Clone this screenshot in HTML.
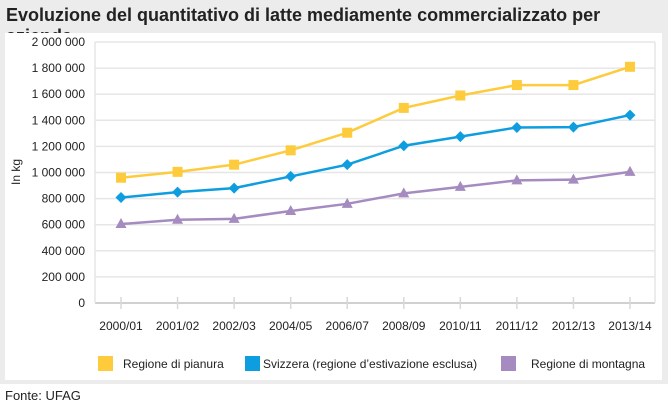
<!DOCTYPE html>
<html><head><meta charset="utf-8"><style>
body{margin:0;width:668px;height:407px;background:#fff;font-family:"Liberation Sans Narrow","Liberation Sans",sans-serif;overflow:hidden}
#bg{position:absolute;left:0;top:0;width:668px;height:384px;background:#ececec}
#title{position:absolute;left:6px;top:5px;font-size:18px;font-weight:bold;color:#222}
#panel{position:absolute;left:5px;top:33px;width:657px;height:347px;background:#fff}
#src{position:absolute;left:5px;top:388px;font-size:13px;color:#222}
svg{position:absolute;left:0;top:0}
text{font-family:"Liberation Sans Narrow","Liberation Sans",sans-serif;font-size:12px;fill:#222}
</style></head><body>
<div id="bg"></div>
<div id="title">Evoluzione del quantitativo di latte mediamente commercializzato per azienda</div>
<div id="panel"></div>
<div id="src">Fonte: UFAG</div>
<svg id="chart" width="668" height="407"></svg>
<script>
const categories=["2000/01","2001/02","2002/03","2004/05","2006/07","2008/09","2010/11","2011/12","2012/13","2013/14"];
const pianura=[960000,1005000,1060000,1170000,1305000,1495000,1590000,1670000,1670000,1810000];
const svizzera=[808000,850000,880000,970000,1060000,1205000,1275000,1345000,1348000,1440000];
const montagna=[605000,638000,645000,705000,760000,840000,890000,940000,945000,1005000];
const yTicks=[0,200000,400000,600000,800000,1000000,1200000,1400000,1600000,1800000,2000000];
const svg=document.getElementById('chart');const NS='http://www.w3.org/2000/svg';
const L=95,R=655,T=42,B=303,ymax=2000000;
const x=i=>121+i*(630-121)/(categories.length-1);
const y=v=>B-(v/ymax)*(B-T);
function mk(t,a){const e=document.createElementNS(NS,t);for(const k in a)e.setAttribute(k,a[k]);svg.appendChild(e);return e;}
const fmt=v=>v===0?"0":v.toString().replace(/\B(?=(\d{3})+(?!\d))/g," ");
yTicks.forEach(v=>{
 const g=mk('line',{x1:L,x2:R,y1:y(v),y2:y(v),stroke:v===0?'#d0d0d0':'#e6e6e6','stroke-width':v===0?2:1.5});
 
 
 const t=mk('text',{x:85,y:y(v)+4,'text-anchor':'end'});t.textContent=fmt(v);
 
 
});
const br=mk('line',{x1:L,x2:L,y1:T,y2:B,stroke:'#e6e6e6','stroke-width':1.5});


const br2=mk('line',{x1:R,x2:R,y1:T,y2:B,stroke:'#e6e6e6','stroke-width':1.5});


categories.forEach((c,i)=>{
 const tk=mk('line',{x1:x(i),x2:x(i),y1:B-6,y2:B+6,stroke:'#d8d8d8','stroke-width':1.5});
 
 
 const t=mk('text',{x:x(i),y:330,'text-anchor':'middle'});t.textContent=c;
 
 
});
const yt=mk('text',{x:20,y:172,'text-anchor':'middle',transform:'rotate(-90 20 172)'});yt.textContent='In kg';


function series(data,color,shape,name){
 const p=mk('polyline',{points:data.map((v,i)=>x(i)+','+y(v)).join(' '),fill:'none',stroke:color,'stroke-width':2.5});
 
 
 data.forEach((v,i)=>{let m;const cx=x(i),cy=y(v);
  if(shape==='sq')m=mk('rect',{x:cx-5,y:cy-5,width:10,height:10,fill:color});
  else if(shape==='di')m=mk('polygon',{points:`${cx},${cy-5.5} ${cx+5.5},${cy} ${cx},${cy+5.5} ${cx-5.5},${cy}`,fill:color});
  else m=mk('polygon',{points:`${cx},${cy-6} ${cx+5.5},${cy+4} ${cx-5.5},${cy+4}`,fill:color});
  
  
 });
}
series(pianura,'#fdcb3c','sq','pianura');
series(svizzera,'#0e9ee0','di','svizzera');
series(montagna,'#a58bbf','tr','montagna');
const leg=[[98,'#fdcb3c','Regione di pianura',123],[245,'#0e9ee0','Svizzera (regione d’estivazione esclusa)',263],[501,'#a58bbf','Regione di montagna',531]];
leg.forEach(([lx,c,lab,tx])=>{
 const r=mk('rect',{x:lx,y:356,width:15,height:15,fill:c});
 
 
 const t=mk('text',{x:tx,y:368,'font-size':'13'});t.textContent=lab;
 
 
});
</script>
</body></html>
